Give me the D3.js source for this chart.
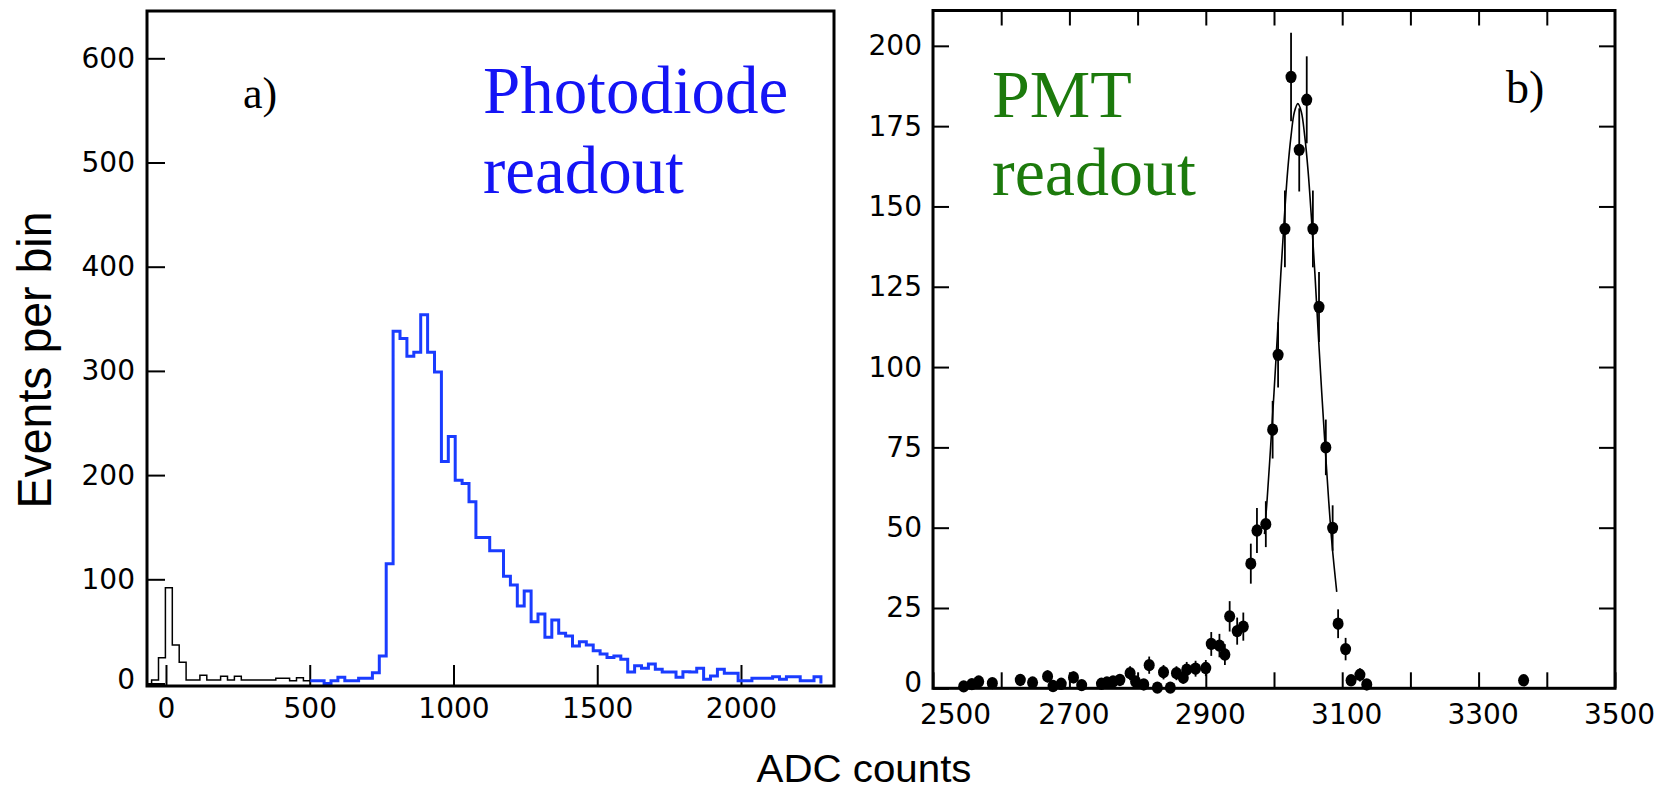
<!DOCTYPE html>
<html>
<head>
<meta charset="utf-8">
<script src="https://cdn.jsdelivr.net/npm/d3@7/dist/d3.min.js"></script>
<style>
  body { margin: 0; background: #fff; }
  svg { display: block; }
  .tick text { font-family: "DejaVu Sans", sans-serif; font-size: 28px; fill: #000; }
  .tick line { stroke: #000; stroke-width: 2; }
</style>
</head>
<body>
<script>
// panel a) photodiode histogram, bins of 24 ADC counts starting at -50
const binStart = -50;
const binWidth = 24;
const pedestalCounts = [3.4, 24.8, 92, 37, 20.3, 3.4, 3.4, 8, 3.4, 3.4, 7, 3.4, 7, 3.4, 3.4, 3.4, 3.4, 3.4, 5, 5, 2.7, 5.6, 2.7];
const signalCounts = [2.7, 2.7, 0, 2.7, 6, 2.7, 2.7, 5, 5, 10.4, 26.4, 115, 338, 331, 314, 318, 354, 318, 299, 213,
  237, 195, 192, 174.5, 140, 140, 127.5, 127.5, 103, 94.5, 74.4, 88.8, 59.3, 66.7, 44.3, 61, 48.2, 45.6, 36, 40,
  37, 31.5, 28.3, 25, 26.4, 23.2, 11, 17, 14.6, 18.7, 13.6, 11, 11, 5.9, 11.3, 11, 14.6, 4, 7.2, 13.6,
  9.8, 9.8, 2.7, 2.7, 5, 5, 5, 6.5, 4, 6.5, 6.5, 2.7, 2.7, 6.5];
const aXTicks = [0, 500, 1000, 1500, 2000];
const aYTicks = [0, 100, 200, 300, 400, 500, 600];

// panel b) PMT spectrum: bin centre, events
const pmtX = [2545, 2557, 2567, 2587, 2628, 2646, 2668, 2676, 2688, 2706, 2718, 2747, 2755, 2764, 2774, 2789, 2797,
  2809, 2817, 2829, 2838, 2848, 2857, 2867, 2872, 2885, 2900, 2908, 2920, 2928, 2935, 2946, 2955, 2966, 2975,
  2988, 2998, 3006, 3016, 3025, 3037, 3048, 3057, 3066, 3076, 3086, 3094, 3105, 3113, 3126, 3136, 3366];
const pmtN = [0.6, 1.3, 2.1, 1.6, 2.6, 1.8, 3.7, 0.7, 1.4, 3.4, 1.0, 1.4, 1.8, 2.1, 2.6, 4.7, 2.1,
  1.2, 7.2, 0.2, 5.0, 0.2, 4.7, 3.3, 5.8, 6.1, 6.3, 13.8, 13.3, 10.5, 22.4, 17.8, 19.2, 38.8, 49.1,
  51.1, 80.5, 103.8, 143, 190.3, 167.6, 183.2, 143, 118.7, 75, 49.9, 20.1, 12.2, 2.5, 4.2, 1.2, 2.5];
// fitted curve
const fitX = [2986, 2990, 2995, 3000, 3005, 3010, 3015, 3020, 3025, 3030, 3035, 3040, 3045, 3050, 3055, 3060, 3065, 3070, 3075, 3080, 3085, 3092];
const fitY = [48, 59, 75, 92, 110, 129, 146, 161, 172, 179.5, 182, 179.5, 172, 161, 146, 129, 110, 92, 75, 59, 45, 30];
const bXTicks = [2500, 2600, 2700, 2800, 2900, 3000, 3100, 3200, 3300, 3400, 3500];
const bXLabels = [2500, 2700, 2900, 3100, 3300, 3500];
const bYTicks = [0, 25, 50, 75, 100, 125, 150, 175, 200];

const w = 1663;
const h = 791;
const blue = '#1a3cff';
const green = '#1c7a0c';

const svg = d3.select('body').append('svg')
              .attr('width', w)
              .attr('height', h);

// ---------- panel a ----------
const ax = {left: 147, right: 834, top: 11, bottom: 686};
const xA = d3.scaleLinear().domain([-66, 2323.5]).range([ax.left, ax.right]);
const yA = d3.scaleLinear().domain([-2.4, 645.4]).range([ax.bottom, ax.top]);

const gA = svg.append('g');

gA.append('g')
  .attr('transform', 'translate(0,' + ax.bottom + ')')
  .call(d3.axisBottom(xA).tickValues(aXTicks).tickSize(-21).tickPadding(12).tickFormat(d3.format('d')))
  .call(g => g.select('.domain').remove());

gA.append('g')
  .attr('transform', 'translate(' + ax.left + ',0)')
  .call(d3.axisLeft(yA).tickValues(aYTicks).tickSize(-18).tickPadding(12))
  .call(g => g.select('.domain').remove())
  .call(g => g.selectAll('.tick').filter(d => d === 0).select('text').attr('y', -4));

function steps(counts, first) {
  var pts = [];
  counts.forEach((c, i) => pts.push({x: binStart + (first + i) * binWidth, y: c}));
  pts.push({x: binStart + (first + counts.length) * binWidth, y: counts[counts.length - 1]});
  return pts;
}

const stepLine = d3.line()
                   .x(d => xA(d.x))
                   .y(d => yA(d.y))
                   .curve(d3.curveStepAfter);

var pedPts = [{x: binStart, y: 0}].concat(steps(pedestalCounts, 0));
var sigPts = steps(signalCounts, pedestalCounts.length);
sigPts.push({x: sigPts[sigPts.length - 1].x, y: 0});

gA.append('path')
  .attr('d', stepLine(pedPts))
  .attr('fill', 'none')
  .attr('stroke', '#000')
  .attr('stroke-width', 1.5);

gA.append('path')
  .attr('d', stepLine(sigPts))
  .attr('fill', 'none')
  .attr('stroke', blue)
  .attr('stroke-width', 3);

gA.append('rect')
  .attr('x', ax.left).attr('y', ax.top)
  .attr('width', ax.right - ax.left).attr('height', ax.bottom - ax.top)
  .attr('fill', 'none').attr('stroke', '#000').attr('stroke-width', 3);

gA.append('text')
  .attr('x', 243).attr('y', 108)
  .attr('font-family', '"Liberation Serif", serif').attr('font-size', 44)
  .text('a)');
gA.append('text')
  .attr('x', 483).attr('y', 113)
  .attr('font-family', '"Liberation Serif", serif').attr('font-size', 67)
  .attr('fill', '#1414f5')
  .text('Photodiode');
gA.append('text')
  .attr('x', 483).attr('y', 193)
  .attr('font-family', '"Liberation Serif", serif').attr('font-size', 67)
  .attr('fill', '#1414f5')
  .text('readout');

// ---------- panel b ----------
const bx = {left: 933, right: 1615, top: 10.5, bottom: 688.3};
const xB = d3.scaleLinear().domain([2500, 3500]).range([bx.left, bx.right]);
const yB = d3.scaleLinear().domain([0, 211]).range([bx.bottom, bx.top]);

const gB = svg.append('g');

gB.append('g')
  .attr('transform', 'translate(0,' + bx.bottom + ')')
  .call(d3.axisBottom(xB).tickValues(bXTicks).tickSize(-16).tickPadding(16)
          .tickFormat(d => bXLabels.includes(d) ? d : ''))
  .call(g => g.select('.domain').remove())
  .call(g => g.selectAll('.tick text').attr('dx', d => d === 2500 ? 22 : 4));

gB.append('g')
  .attr('transform', 'translate(0,' + bx.top + ')')
  .call(d3.axisTop(xB).tickValues(bXTicks.slice(1, -1)).tickSize(-15).tickFormat(''))
  .call(g => g.select('.domain').remove());

gB.append('g')
  .attr('transform', 'translate(' + bx.left + ',0)')
  .call(d3.axisLeft(yB).tickValues(bYTicks).tickSize(-16).tickPadding(11))
  .call(g => g.select('.domain').remove())
  .call(g => g.selectAll('.tick').filter(d => d === 0).select('text').attr('y', -6));

gB.append('g')
  .attr('transform', 'translate(' + bx.right + ',0)')
  .call(d3.axisRight(yB).tickValues(bYTicks.slice(1)).tickSize(-16).tickFormat(''))
  .call(g => g.select('.domain').remove());

const pmt = pmtX.map((x, i) => ({x: x, n: pmtN[i]}));

// error bars (poisson)
gB.append('g').selectAll('line')
  .data(pmt)
  .enter()
  .append('line')
  .attr('x1', d => xB(d.x)).attr('x2', d => xB(d.x))
  .attr('y1', d => yB(d.n + Math.sqrt(d.n)))
  .attr('y2', d => yB(Math.max(0, d.n - Math.sqrt(d.n))))
  .attr('stroke', '#000')
  .attr('stroke-width', 1.8);

const fit = fitX.map((x, i) => ({x: x, y: fitY[i]}));
gB.append('path')
  .attr('d', d3.line().x(d => xB(d.x)).y(d => yB(d.y)).curve(d3.curveCatmullRom)(fit))
  .attr('fill', 'none')
  .attr('stroke', '#000')
  .attr('stroke-width', 1.6);

gB.append('g').selectAll('ellipse')
  .data(pmt)
  .enter()
  .append('ellipse')
  .attr('cx', d => xB(d.x))
  .attr('cy', d => yB(d.n))
  .attr('rx', 5.5)
  .attr('ry', 6.2)
  .attr('fill', '#000');

gB.append('rect')
  .attr('x', bx.left).attr('y', bx.top)
  .attr('width', bx.right - bx.left).attr('height', bx.bottom - bx.top)
  .attr('fill', 'none').attr('stroke', '#000').attr('stroke-width', 3);

gB.append('text')
  .attr('x', 992).attr('y', 117)
  .attr('font-family', '"Liberation Serif", serif').attr('font-size', 68)
  .attr('fill', green)
  .text('PMT');
gB.append('text')
  .attr('x', 992).attr('y', 195)
  .attr('font-family', '"Liberation Serif", serif').attr('font-size', 68)
  .attr('fill', green)
  .text('readout');
gB.append('text')
  .attr('x', 1506).attr('y', 103)
  .attr('font-family', '"Liberation Serif", serif').attr('font-size', 46)
  .text('b)');

// ---------- axis titles ----------
svg.append('text')
   .attr('transform', 'translate(51,360) rotate(-90)')
   .attr('text-anchor', 'middle')
   .attr('font-family', '"Liberation Sans", Arial, sans-serif')
   .attr('font-size', 48)
   .attr('textLength', 297)
   .attr('lengthAdjust', 'spacingAndGlyphs')
   .text('Events per bin');

svg.append('text')
   .attr('x', 864).attr('y', 782)
   .attr('text-anchor', 'middle')
   .attr('font-family', '"Liberation Sans", Arial, sans-serif')
   .attr('font-size', 38)
   .attr('textLength', 215)
   .attr('lengthAdjust', 'spacingAndGlyphs')
   .text('ADC counts');
</script>
</body>
</html>
